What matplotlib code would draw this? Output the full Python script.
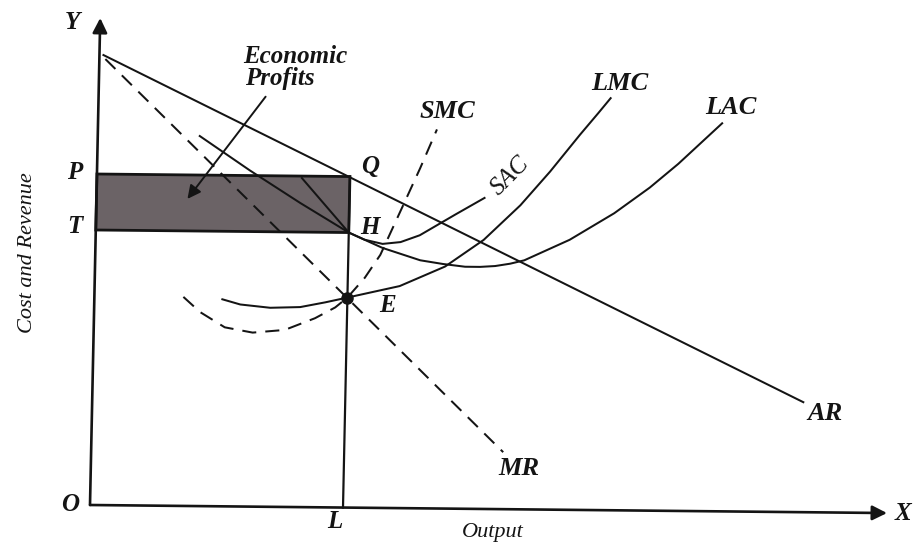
import matplotlib
matplotlib.use("Agg")
import matplotlib.pyplot as plt
from matplotlib.transforms import Affine2D
from matplotlib.patches import Polygon

# ---- data (economic units: u = output, v = cost / revenue) ----
ar_u = [4, 711]
ar_v = [450, 110]
mr_u = [6, 412]
mr_v = [446, 57]
lac_u = [102, 153, 204, 253, 287, 325, 348, 370, 385, 400, 415, 429, 474, 518, 553, 581, 624]
lac_v = [370, 336, 304, 275, 260, 248, 244.5, 242, 242, 243, 245.5, 249, 270, 297, 323, 347, 388]
lmc_u = [128, 146, 176, 206, 231, 253, 305, 350, 388, 424, 453, 482, 500, 512]
lmc_v = [207, 202, 199, 200, 205, 210, 222, 242, 269, 304, 338, 375, 397, 412]
sac_u = [205, 229, 253, 269, 287, 305, 324, 359, 388]
sac_v = [329, 302, 275, 268, 264, 266, 273, 294, 311]
smc_u = [89, 106, 131, 159, 191, 221, 241, 253, 270, 285, 306, 323, 339]
smc_v = [209, 194, 179, 174, 177, 189, 200, 210, 230, 253, 301, 340, 379]
q_out = 253      # OL
p_price = 331    # OP (price at Q)
t_cost = 275     # OT (average cost at H)
e_cost = 210     # MR = MC at E
y_top = 487
x_end = 797

W, H = 916, 544
fig = plt.figure(figsize=(W / 100, H / 100), dpi=100)
ax = fig.add_axes([0, 0, 1, 1])
ax.set_xlim(0, W)
ax.set_ylim(H, 0)
ax.axis("off")

# slightly skewed scan geometry
T = Affine2D.from_values(1, 0.0101, 0.021, -1, 90, 505) + ax.transData

ink = "#141414"
lw = 1.45
serif = ["Liberation Serif", "DejaVu Serif"]

# profit rectangle
rect = Polygon([(0, t_cost), (q_out, t_cost), (q_out, p_price), (0, p_price)],
               closed=True, facecolor="#6b6366", edgecolor=ink, lw=2.0,
               transform=T, zorder=1)
ax.add_patch(rect)

# axes
ax.annotate("", xy=(0, y_top), xytext=(0, 0), xycoords=T, textcoords=T,
            arrowprops=dict(arrowstyle="-|>", mutation_scale=22, lw=1.9,
                            color=ink, shrinkA=0, shrinkB=0), zorder=3)
ax.annotate("", xy=(x_end, 0), xytext=(0, 0), xycoords=T, textcoords=T,
            arrowprops=dict(arrowstyle="-|>", mutation_scale=22, lw=1.9,
                            color=ink, shrinkA=0, shrinkB=0), zorder=3)

# vertical line L-Q
ax.plot([q_out, q_out], [0, p_price], color=ink, lw=1.6, transform=T, zorder=3)

# curves
ax.plot(ar_u, ar_v, color=ink, lw=lw, transform=T, zorder=3)
ax.plot(mr_u, mr_v, color=ink, lw=lw, ls=(0, (7, 4.5)), transform=T, zorder=3)
ax.plot(lac_u, lac_v, color=ink, lw=lw, transform=T, zorder=3)
ax.plot(lmc_u, lmc_v, color=ink, lw=lw, transform=T, zorder=3)
ax.plot(sac_u, sac_v, color=ink, lw=lw, transform=T, zorder=3)
ax.plot(smc_u, smc_v, color=ink, lw=lw, ls=(0, (7, 4.5)), transform=T, zorder=3)

# point E
ax.plot([q_out], [e_cost], "o", color=ink, ms=8, transform=T, zorder=4)

# Economic profits arrow
ax.annotate("", xy=(91, 307), xytext=(167, 410), xycoords=T, textcoords=T,
            arrowprops=dict(arrowstyle="-|>", mutation_scale=20, lw=1.4,
                            color=ink, shrinkA=0, shrinkB=0), zorder=4)

def lab(u, v, s, size=18, weight="bold", **kw):
    ax.text(u, v, s, transform=T, fontsize=size, family=serif, style="italic",
            weight=weight, color=ink, ha=kw.pop("ha", "center"),
            va=kw.pop("va", "center"), **kw)

lab(-28, 482, "Y")
lab(-22, 332, "P")
lab(-21, 278, "T")
lab(-20, 0, "O")
lab(813, 0, "X")
lab(245, -14, "L")
lab(403, -23, "Output", size=16, weight="normal")
lab(273, 341, "Q")
lab(274, 280, "H")
lab(293, 202, "E")
lab(733, 99, "AR", size=19)
lab(428, 41, "MR", size=19)
lab(349, 397, "SMC", size=19)
lab(521, 427, "LMC", size=19)
lab(632, 404, "LAC", size=19)
lab(413, 333, "SAC", size=18, weight="normal", rotation=45)
lab(144, 450, "Economic", size=18, ha="left")
lab(146, 428, "Profits", size=18, ha="left")
lab(-68, 252, "Cost and Revenue", size=16, weight="normal", rotation=90)

fig.savefig("out.png", dpi=100)
